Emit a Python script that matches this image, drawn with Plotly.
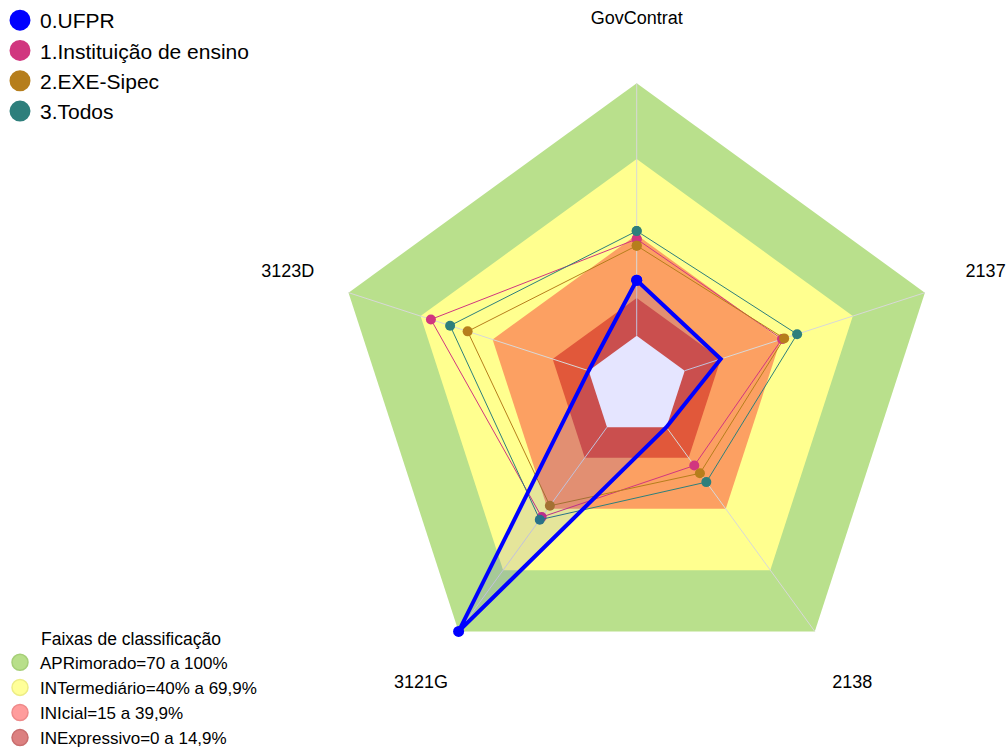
import plotly.graph_objects as go

# ---------------- data ----------------
CATEGORIES = ["GovContrat", "2137", "2138", "3121G", "3123D"]

SERIES_NAMES = ["0.UFPR", "1.Instituição de ensino", "2.EXE-Sipec", "3.Todos"]
UFPR = [22.0, 15.0, 0.0, 100.0, 0.0]
INSTITUICAO = [38.3, 40.5, 18.8, 44.0, 65.7]
EXE_SIPEC = [35.7, 41.4, 22.6, 38.5, 50.4]
TODOS = [41.5, 46.8, 26.9, 45.3, 57.7]

BAND_NAMES = ["APRimorado=70 a 100%", "INTermediário=40% a 69,9%",
              "INIcial=15 a 39,9%", "INExpressivo=0 a 14,9%"]
BAND_UPPER = [100, 70, 40, 15]
BAND_FLOOR = 0
RADIAL_RANGE = [-20, 126]
LEGEND_TITLE = "Faixas de classificação"

# ---------------- styles ----------------
SERIES_COLORS = ["#0000FF", "#D1367F", "#B67E1C", "#2E7F7C"]
BAND_FILL = ["#B9E08C", "#FFFF8F", "#FCA062", "#E1583A"]
BAND_LEGEND = ["#B8DF8A", "#FFFF99", "#FF9C9C", "#DC8080"]
BAND_LEGEND_EDGE = ["#A6CF78", "#EDED85", "#EE8A8A", "#C96E6E"]
FONT = "Liberation Sans, Arial, sans-serif"
LABEL_R = 125.3   # radial position (axis units) of the category labels

W, H = 1007, 756
CX, CY = 636.7, 386.3              # polar centre in pixels
PX_PER_UNIT = 303.0 / 120.0        # radial scale
R_PX = PX_PER_UNIT * (RADIAL_RANGE[1] - RADIAL_RANGE[0])


def closed(seq):
    return list(seq) + [seq[0]]


theta_c = closed(CATEGORIES)
fig = go.Figure()

# classification bands
for upper, col in zip(BAND_UPPER, BAND_FILL):
    fig.add_trace(go.Scatterpolar(
        r=closed([upper] * len(CATEGORIES)), theta=theta_c,
        mode="none", fill="toself", fillcolor=col,
        showlegend=False, hoverinfo="skip"))
# empty centre (below 0)
fig.add_trace(go.Scatterpolar(
    r=closed([BAND_FLOOR] * len(CATEGORIES)), theta=theta_c,
    mode="none", fill="toself", fillcolor="white",
    showlegend=False, hoverinfo="skip"))
# spokes
for c in CATEGORIES:
    fig.add_trace(go.Scatterpolar(
        r=[BAND_FLOOR, BAND_UPPER[0]], theta=[c, c], mode="lines",
        line=dict(color="#D8D8D8", width=1),
        showlegend=False, hoverinfo="skip"))

# comparison series
for name, vals, col in zip(SERIES_NAMES[1:], [INSTITUICAO, EXE_SIPEC, TODOS],
                           SERIES_COLORS[1:]):
    fig.add_trace(go.Scatterpolar(
        r=closed(vals), theta=theta_c, mode="lines+markers", name=name,
        line=dict(color=col, width=1), marker=dict(color=col, size=10),
        showlegend=False))

# UFPR (highlight)
fig.add_trace(go.Scatterpolar(
    r=closed(UFPR), theta=theta_c, mode="lines+markers", name=SERIES_NAMES[0],
    fill="toself", fillcolor="rgba(0,0,255,0.1)",
    line=dict(color=SERIES_COLORS[0], width=4),
    marker=dict(color=SERIES_COLORS[0], size=11), showlegend=False))

# category labels (centred on their spoke direction)
fig.add_trace(go.Scatterpolar(
    r=[LABEL_R] * len(CATEGORIES), theta=CATEGORIES, mode="text",
    text=CATEGORIES, textposition="middle center",
    textfont=dict(size=18, color="black", family=FONT),
    cliponaxis=False, showlegend=False, hoverinfo="skip"))

# legend entries (series)
for name, col in zip(SERIES_NAMES, SERIES_COLORS):
    fig.add_trace(go.Scatterpolar(
        r=[None], theta=[CATEGORIES[0]], mode="markers", name=name,
        marker=dict(color=col, size=16, line=dict(color=col, width=5)),
        legend="legend", showlegend=True))
# legend entries (bands)
for name, col, edge in zip(BAND_NAMES, BAND_LEGEND, BAND_LEGEND_EDGE):
    fig.add_trace(go.Scatterpolar(
        r=[None], theta=[CATEGORIES[0]], mode="markers", name=name,
        marker=dict(color=col, size=16, line=dict(color=edge, width=1.5)),
        legend="legend2", showlegend=True))

fig.update_layout(
    width=W, height=H,
    margin=dict(l=0, r=0, t=0, b=0),
    paper_bgcolor="white",
    font=dict(family=FONT, color="black"),
    polar=dict(
        domain=dict(x=[(CX - R_PX) / W, (CX + R_PX) / W],
                    y=[(H - CY - R_PX) / H, (H - CY + R_PX) / H]),
        bgcolor="white",
        gridshape="linear",
        radialaxis=dict(visible=False, range=RADIAL_RANGE),
        angularaxis=dict(
            rotation=90, direction="clockwise",
            showgrid=False, showline=False, ticks="",
            showticklabels=False),
    ),
    legend=dict(x=0, y=1, xanchor="left", yanchor="top",
                bgcolor="rgba(0,0,0,0)", font=dict(size=21, family=FONT),
                tracegroupgap=0),
    legend2=dict(x=0, y=0, xanchor="left", yanchor="bottom",
                 bgcolor="rgba(0,0,0,0)", font=dict(size=17, family=FONT),
                 title=dict(text=LEGEND_TITLE, side="top center",
                            font=dict(size=17.5, family=FONT))),
)

fig.write_html("out.html", config={"displayModeBar": False},
               post_script="document.body.style.margin='0';document.body.style.overflow='hidden';")
